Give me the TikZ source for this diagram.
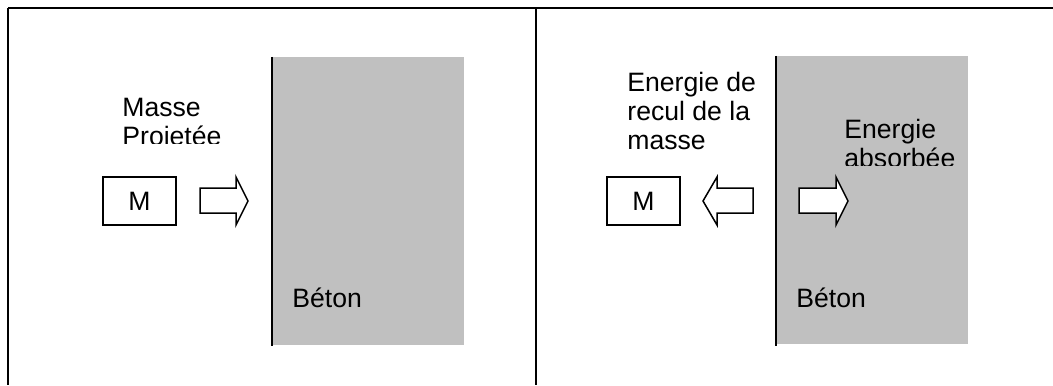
\documentclass[tikz,border=0pt]{standalone}
\usepackage{fontspec}
\setmainfont{Liberation Sans}
\definecolor{beton}{RGB}{192,192,192}
\tikzset{
	rahmen/.style={line width=0.9pt},
	masseblock/.style={draw, line width=0.75pt, minimum width=36.5pt, minimum height=24pt, inner sep=0pt, font=\fontsize{13.3}{14.5}\selectfont},
	pfeil/.style={draw, fill=white, line width=0.75pt, line join=miter},
	beschriftung/.style={anchor=base west, align=left, inner sep=0pt, font=\fontsize{13.3}{14.5}\selectfont},
}
\begin{document}
\begin{tikzpicture}[x=0.5pt,y=-0.5pt]
		\useasboundingbox (0,0) rectangle (1053,385);
		%rahmen
		\draw[rahmen] (8,8) -- (1053,8);
		\draw[rahmen] (8,8) -- (8,385);
		\draw[rahmen] (536,8) -- (536,385);
		%links
		\fill[beton] (272,57) rectangle (464,345);
		\draw[rahmen] (272,57) -- (272,346);
		\node[masseblock] (mlinks) at (139.5,201) {M};
		\draw[pfeil] (200,188) -- (236,188) -- (236,177) -- (248,201) -- (236,225) -- (236,213) -- (200,213) -- cycle;
		\begin{scope}
			\clip (100,60) rectangle (265,143);
			\node[beschriftung] (projetee) at (122,145.5) {Masse\\Projetée};
		\end{scope}
		\node[beschriftung] (betonlinks) at (292,307) {Béton};
		%rechts
		\fill[beton] (776,56) rectangle (968,344);
		\draw[rahmen] (776,56) -- (776,346);
		\node[masseblock] (mrechts) at (643.5,201) {M};
		\draw[pfeil] (753,188) -- (717,188) -- (717,177) -- (703,201) -- (717,225) -- (717,213) -- (753,213) -- cycle;
		\draw[pfeil] (799,188) -- (836,188) -- (836,177) -- (848,201) -- (836,225) -- (836,213) -- (799,213) -- cycle;
		\node[beschriftung] (recul) at (627,149.5) {Energie de\\recul de la\\masse};
		\begin{scope}
			\clip (830,100) rectangle (965,165);
			\node[beschriftung] (absorbee) at (844,167.5) {Energie\\absorbée};
		\end{scope}
		\node[beschriftung] (betonrechts) at (796,307) {Béton};
	\end{tikzpicture}
\end{document}
